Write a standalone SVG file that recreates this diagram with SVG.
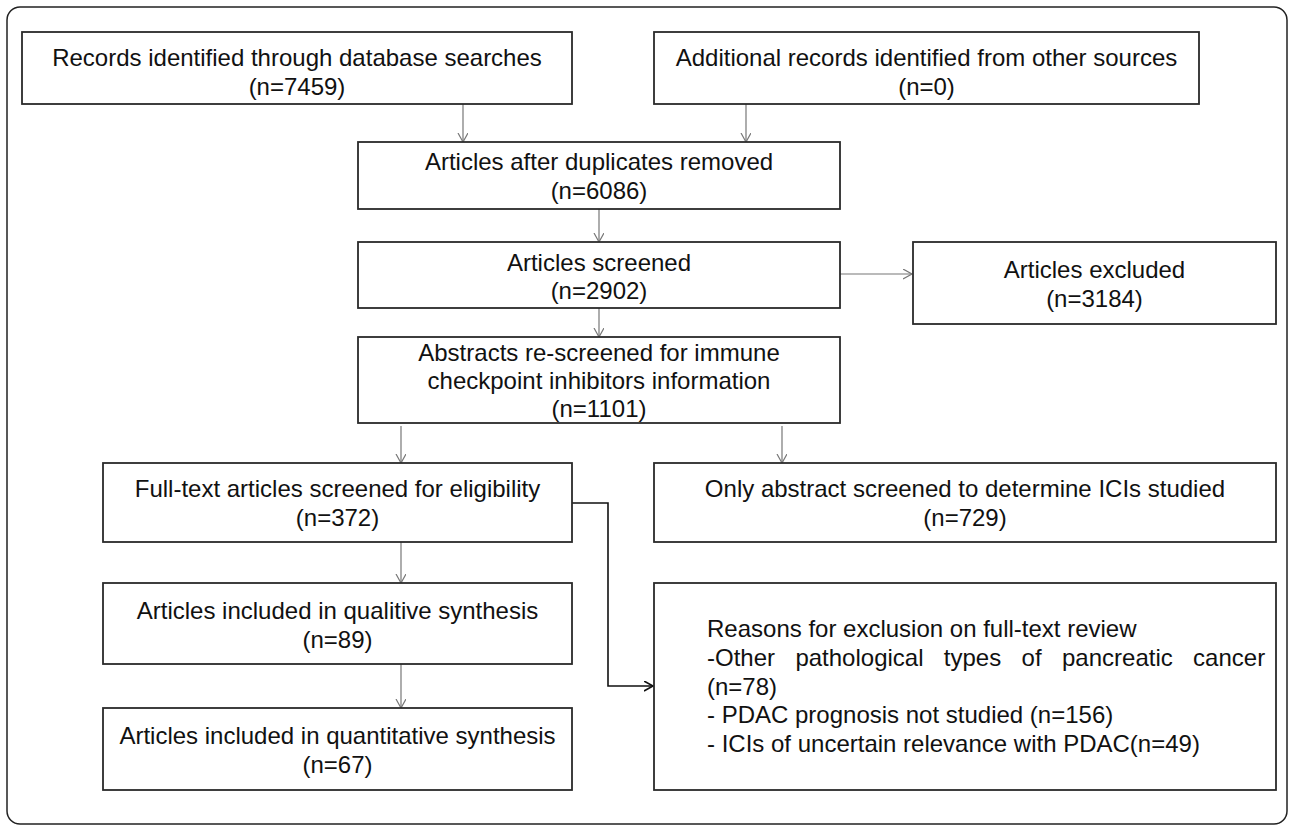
<svg xmlns="http://www.w3.org/2000/svg" width="1290" height="825" viewBox="0 0 1290 825">
<style>
.box{fill:#fff;stroke:#2a2a2a;stroke-width:1.8}
.t{font-family:"Liberation Sans",Arial,Helvetica,sans-serif;font-size:24px;fill:#111;text-anchor:middle}
.tl{font-family:"Liberation Sans",Arial,Helvetica,sans-serif;font-size:24px;fill:#111;text-anchor:start}
.c{fill:none;stroke:#777;stroke-width:1.2}
.cb{fill:none;stroke:#111;stroke-width:1.6}
</style>
<defs>
<marker id="ag" markerUnits="userSpaceOnUse" markerWidth="12" markerHeight="12" refX="9" refY="5" orient="auto">
<path d="M0,0 L9,5 L0,10" fill="none" stroke="#777" stroke-width="1.2"/>
</marker>
<marker id="ab" markerUnits="userSpaceOnUse" markerWidth="12" markerHeight="12" refX="9" refY="5" orient="auto">
<path d="M0,0 L9,5 L0,10" fill="none" stroke="#111" stroke-width="1.6"/>
</marker>
</defs>
<rect x="0" y="0" width="1290" height="825" fill="#fff"/>
<rect x="7" y="7" width="1280" height="817" rx="13" ry="13" fill="none" stroke="#222" stroke-width="1.5"/>

<g id="connectors">
<line class="c" x1="463" y1="104" x2="463" y2="142" marker-end="url(#ag)"/>
<line class="c" x1="746" y1="104" x2="746" y2="142" marker-end="url(#ag)"/>
<line class="c" x1="599" y1="209" x2="599" y2="242" marker-end="url(#ag)"/>
<line class="c" x1="840" y1="274" x2="912" y2="274" marker-end="url(#ag)"/>
<line class="c" x1="599" y1="308" x2="599" y2="337" marker-end="url(#ag)"/>
<line class="c" x1="401" y1="426" x2="401" y2="463" marker-end="url(#ag)"/>
<line class="c" x1="782" y1="426" x2="782" y2="463" marker-end="url(#ag)"/>
<polyline class="cb" points="572,503 608,503 608,686 653,686" marker-end="url(#ab)"/>
<line class="c" x1="401" y1="542" x2="401" y2="583" marker-end="url(#ag)"/>
<line class="c" x1="401" y1="664" x2="401" y2="708" marker-end="url(#ag)"/>
</g>

<g id="n1">
<rect class="box" x="22" y="32" width="550" height="72"/>
<text class="t" x="297" y="66">Records identified through database searches</text>
<text class="t" x="297" y="95">(n=7459)</text>
</g>
<g id="n2">
<rect class="box" x="654" y="32" width="545" height="72"/>
<text class="t" x="926.5" y="66">Additional records identified from other sources</text>
<text class="t" x="926.5" y="95">(n=0)</text>
</g>
<g id="n3">
<rect class="box" x="358" y="142" width="482" height="67"/>
<text class="t" x="599" y="170">Articles after duplicates removed</text>
<text class="t" x="599" y="199">(n=6086)</text>
</g>
<g id="n4">
<rect class="box" x="358" y="242" width="482" height="66"/>
<text class="t" x="599" y="271">Articles screened</text>
<text class="t" x="599" y="299">(n=2902)</text>
</g>
<g id="n5">
<rect class="box" x="913" y="242" width="363" height="82"/>
<text class="t" x="1094.5" y="278">Articles excluded</text>
<text class="t" x="1094.5" y="307">(n=3184)</text>
</g>
<g id="n6">
<rect class="box" x="358" y="337" width="482" height="86"/>
<text class="t" x="599" y="361">Abstracts re-screened for immune</text>
<text class="t" x="599" y="389">checkpoint inhibitors information</text>
<text class="t" x="599" y="417">(n=1101)</text>
</g>
<g id="n7">
<rect class="box" x="103" y="463" width="469" height="79"/>
<text class="t" x="337.5" y="497">Full-text articles screened for eligibility</text>
<text class="t" x="337.5" y="526">(n=372)</text>
</g>
<g id="n8">
<rect class="box" x="654" y="463" width="622" height="79"/>
<text class="t" x="965" y="497">Only abstract screened to determine ICIs studied</text>
<text class="t" x="965" y="526">(n=729)</text>
</g>
<g id="n9">
<rect class="box" x="103" y="583" width="469" height="81"/>
<text class="t" x="337.5" y="619">Articles included in qualitive synthesis</text>
<text class="t" x="337.5" y="648">(n=89)</text>
</g>
<g id="n10">
<rect class="box" x="103" y="708" width="469" height="82"/>
<text class="t" x="337.5" y="744">Articles included in quantitative synthesis</text>
<text class="t" x="337.5" y="773">(n=67)</text>
</g>
<g id="n11">
<rect class="box" x="654" y="583" width="622" height="207"/>
<text class="tl" x="707" y="637">Reasons for exclusion on full-text review</text>
<text class="tl" y="666"><tspan x="707">-Other</tspan><tspan x="795.4">pathological</tspan><tspan x="943.8">types</tspan><tspan x="1021.6">of</tspan><tspan x="1062">pancreatic</tspan><tspan x="1193.1">cancer</tspan></text>
<text class="tl" x="707" y="695">(n=78)</text>
<text class="tl" x="707" y="723">- PDAC prognosis not studied (n=156)</text>
<text class="tl" x="707" y="752">- ICIs of uncertain relevance with PDAC(n=49)</text>
</g>
</svg>
